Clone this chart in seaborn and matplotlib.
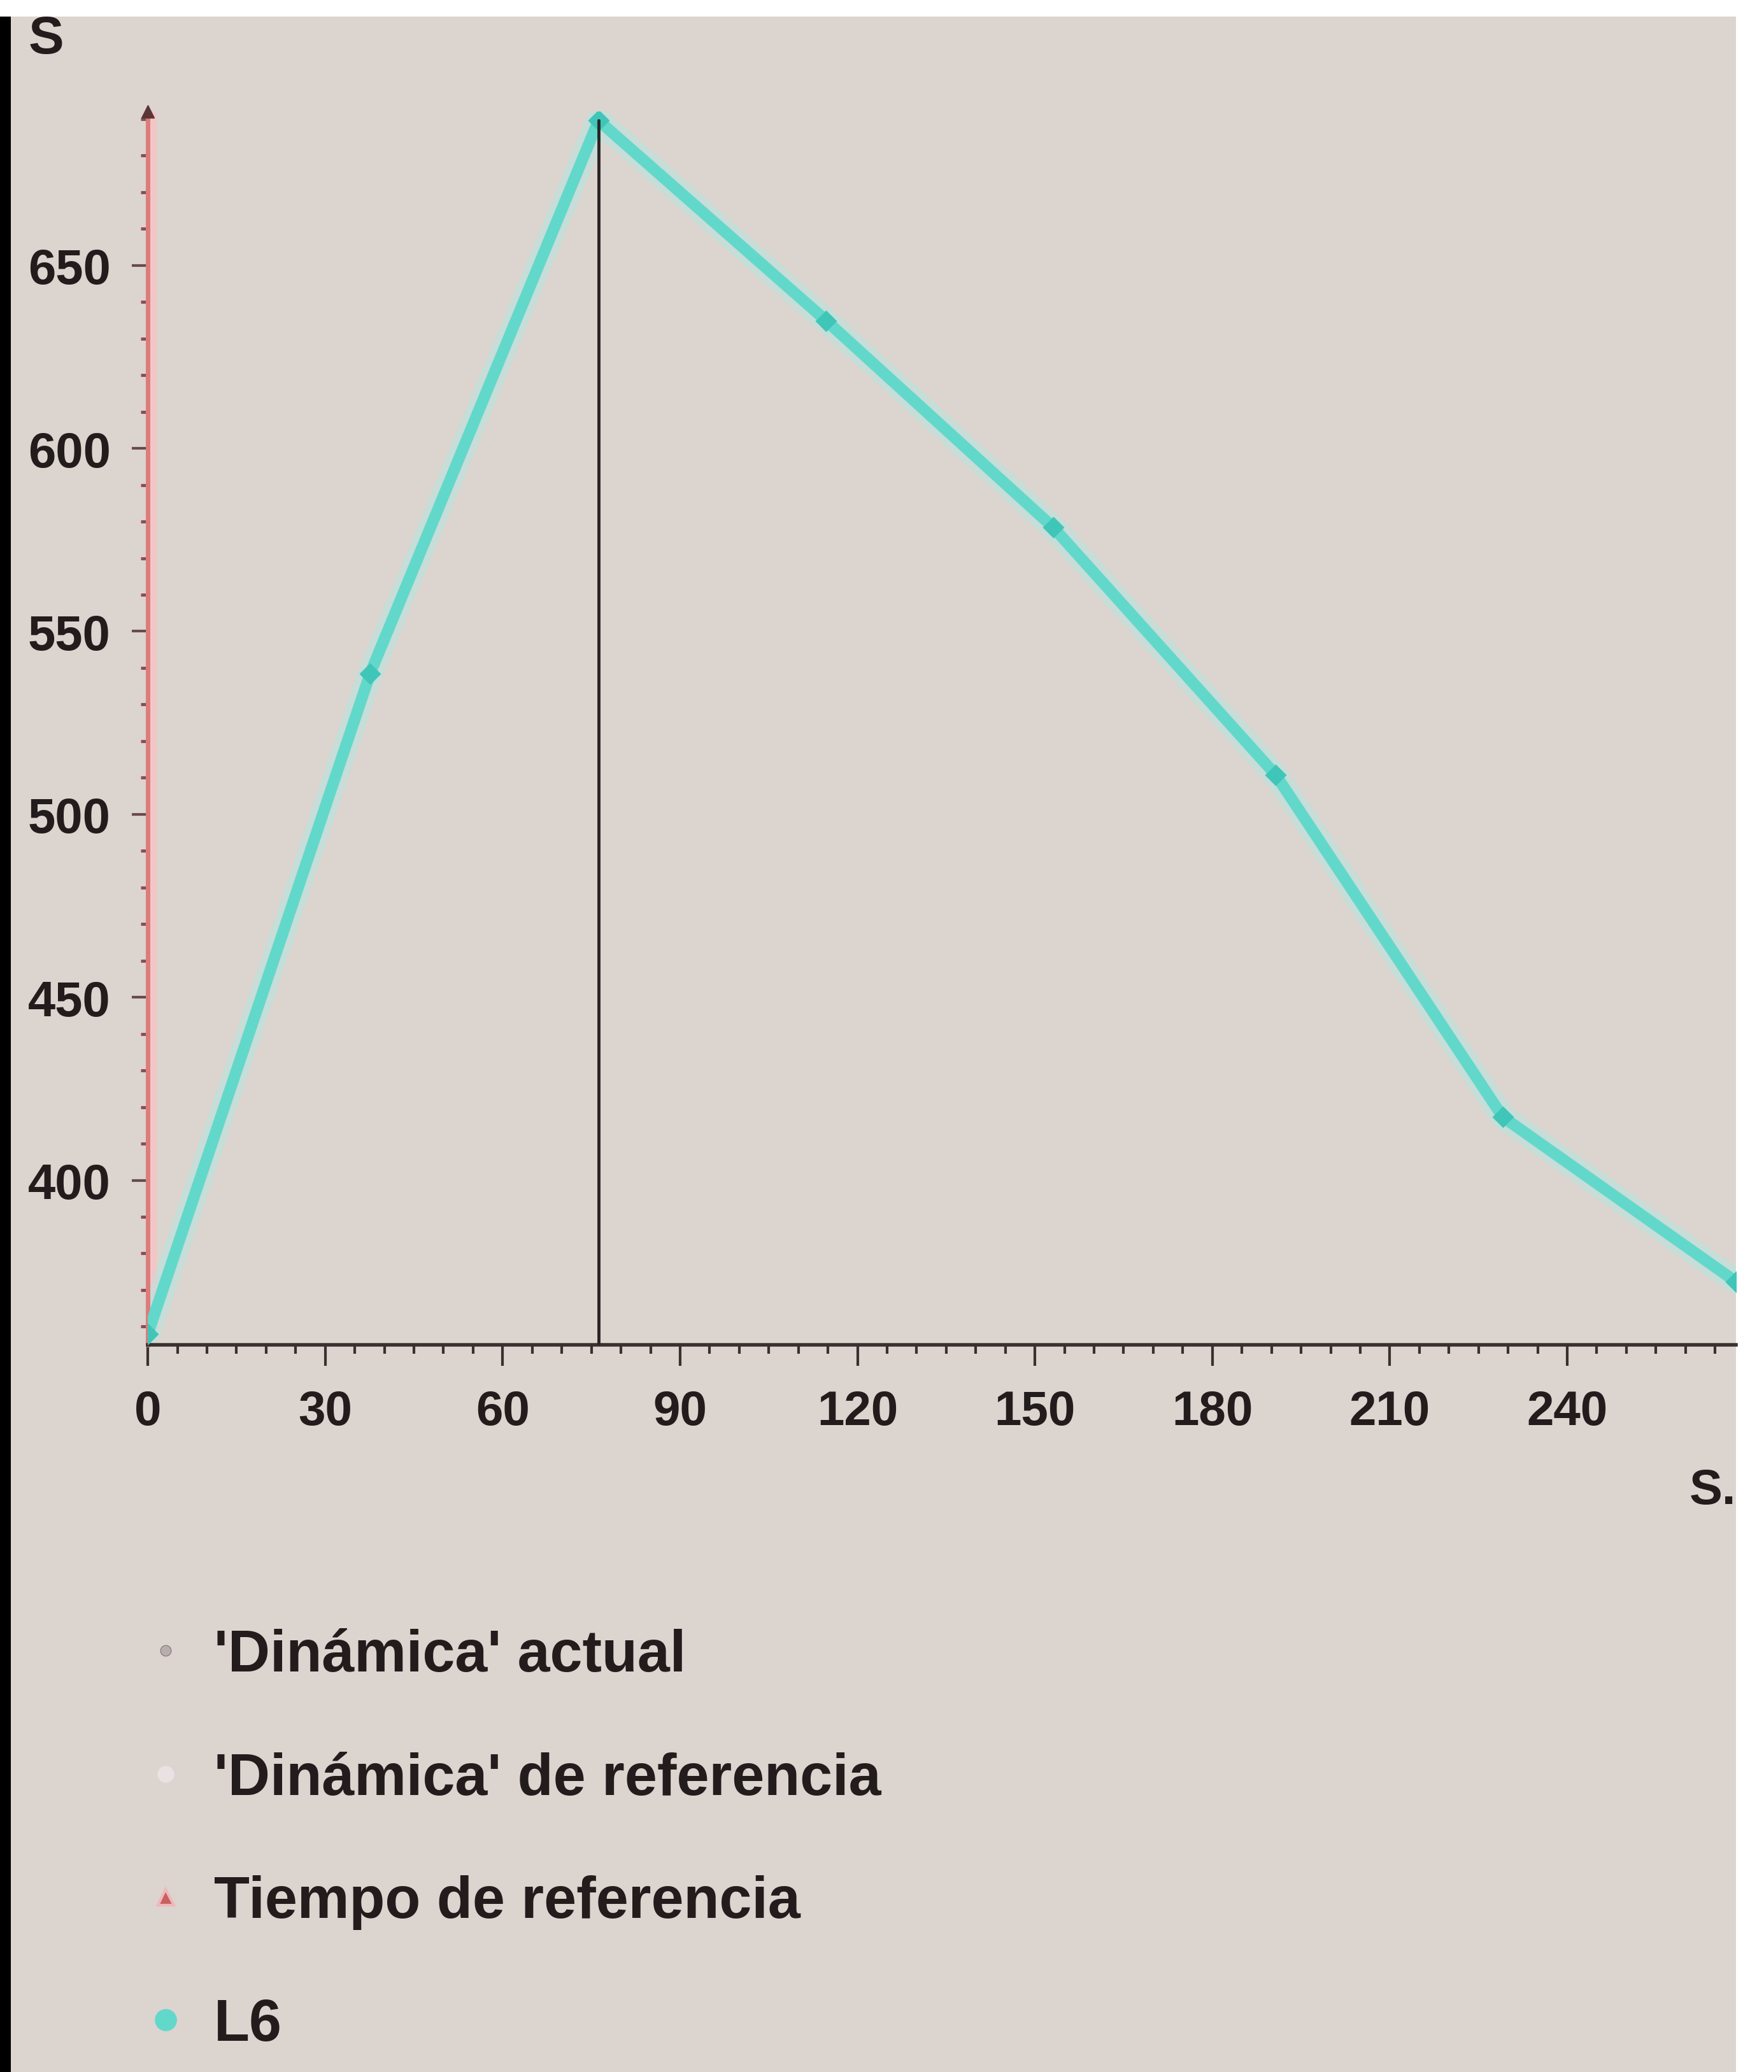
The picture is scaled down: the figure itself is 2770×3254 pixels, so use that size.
import seaborn as sns
import matplotlib.pyplot as plt
import pandas as pd
from matplotlib.lines import Line2D
from matplotlib.patches import Rectangle
from matplotlib.ticker import MultipleLocator


# datos
tiempo = [0, 37.6, 76.2, 114.7, 153.1, 190.7, 229.1, 268.5]
l6 = [358, 538.5, 689.6, 634.9, 578.4, 510.8, 417.3, 372.3]
tiempo_referencia = 76.2

x_ticks = [0, 30, 60, 90, 120, 150, 180, 210, 240]
y_ticks = [400, 450, 500, 550, 600, 650]

legend_labels = ["'Dinámica' actual", "'Dinámica' de referencia",
                 "Tiempo de referencia", "L6"]

df = pd.DataFrame({"t": tiempo, "s": l6})

BG = "#DCD4CF"
CYAN = "#62D8CB"

sns.set_style("ticks")
plt.rcParams["font.family"] = ["Liberation Sans", "DejaVu Sans"]
plt.rcParams["font.weight"] = "bold"

fig = plt.figure(figsize=(27.7, 32.55), dpi=100, facecolor="white")

# fondo beige y franja negra
fig.patches.append(Rectangle((0.0061, 0), 0.978, 0.9917, transform=fig.transFigure,
                             facecolor=BG, edgecolor="none", zorder=-5))
fig.patches.append(Rectangle((0, 0), 0.0061, 0.9917, transform=fig.transFigure,
                             facecolor="black", edgecolor="none", zorder=-5))

ax = fig.add_axes([0.0838, 0.3508, 0.9002, 0.595])
ax.set_facecolor("none")

ymin, ymax = 355, 692

# linea L6 con halo
sns.lineplot(data=df, x="t", y="s", ax=ax, color="#B4E6E0", lw=28,
             alpha=0.55, legend=False, zorder=2)
sns.lineplot(data=df, x="t", y="s", ax=ax, color=CYAN, lw=13,
             marker="D", markersize=17, markerfacecolor="#3FC6B8",
             markeredgecolor="none", legend=False, zorder=3)

# tiempo de referencia (linea negra)
ax.plot([tiempo_referencia, tiempo_referencia], [ymin, df["s"].max()],
        color="#2A2424", lw=3.5, zorder=4)

# linea roja sobre el eje y
ax.axvline(0, color="#F2C6C6", lw=20, zorder=1)
ax.axvline(0, color="#DC7C7C", lw=5, zorder=1)
ax.plot([0], [ymax], marker="^", color="#5A3535", markersize=14,
        clip_on=False, zorder=5)

ax.set_xlim(0, 268.5)
ax.set_ylim(ymin, ymax)

ax.set_xticks(x_ticks)
ax.set_yticks(y_ticks)
ax.xaxis.set_minor_locator(MultipleLocator(5))
ax.yaxis.set_minor_locator(MultipleLocator(10))

for side in ["top", "right"]:
    ax.spines[side].set_visible(False)
ax.spines["bottom"].set_color("#3A3030")
ax.spines["bottom"].set_linewidth(4)
ax.spines["left"].set_color("#DC7C7C")
ax.spines["left"].set_linewidth(5)

ax.tick_params(axis="x", which="major", length=24, width=3, pad=26,
               color="#3A3030", labelsize=55, labelcolor="#231C1C")
ax.tick_params(axis="x", which="minor", length=10, width=3, color="#3A3030")
ax.tick_params(axis="y", which="major", length=18, width=3, pad=24,
               color="#6A4A4A", labelsize=56, labelcolor="#231C1C")
ax.tick_params(axis="y", which="minor", length=8, width=3.5, color="#8A4E4E")

for lab in ax.get_xticklabels() + ax.get_yticklabels():
    lab.set_fontweight("bold")

ax.set_xlabel("")
ax.set_ylabel("")

fig.text(0.026, 0.981, "S", fontsize=60, fontweight="bold", color="#231C1C",
         ha="center", va="center")
fig.text(0.971, 0.2805, "S.", fontsize=56, fontweight="bold", color="#231C1C",
         ha="center", va="center")

# leyenda
handles = [
    Line2D([], [], ls="none", marker="o", markersize=12, color="#8C8282",
           markerfacecolor="#B8AEAE"),
    Line2D([], [], ls="none", marker="o", markersize=18, color="#EAE2E2"),
    Line2D([], [], ls="none", marker="^", markersize=18, color="#C86060",
           markeredgecolor="#F0B8B8", markeredgewidth=3),
    Line2D([], [], ls="none", marker="o", markersize=24, color=CYAN),
]
fig.legend(handles, legend_labels, loc="upper left",
           bbox_to_anchor=(0.084, 0.214), frameon=False,
           labelspacing=1.17, handlelength=0.6,
           handletextpad=0.53, borderpad=0, borderaxespad=0,
           labelcolor="#231C1C", prop={"weight": "bold", "size": 66})

fig.savefig("out.png", dpi=100, facecolor=fig.get_facecolor())
plt.close(fig)
